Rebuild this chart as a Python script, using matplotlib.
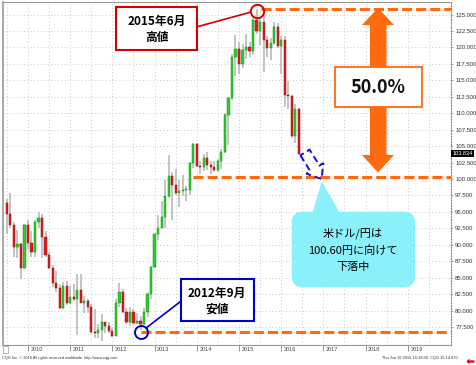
import numpy as np
import pandas as pd
import matplotlib
matplotlib.use('Agg')
import matplotlib.pyplot as plt
from matplotlib.patches import Rectangle, Polygon, FancyBboxPatch
from matplotlib.transforms import Affine2D, blended_transform_factory

# ---------------- data (USD/JPY monthly, Jul 2009 - Jun 2016) ----------------
months = pd.period_range('2009-07', '2016-06', freq='M')
opens = [96.3, 94.7, 93.0, 89.7, 90.1, 86.4,
         93.0, 90.3, 88.9, 93.5, 94.0, 91.2, 88.4, 86.5, 84.2, 83.5, 80.4, 83.7,
         81.1, 82.1, 81.8, 83.1, 81.2, 81.5, 80.5, 76.8, 76.6, 77.0, 78.2, 77.6,
         76.9, 76.2, 81.2, 82.9, 79.8, 78.3, 79.8, 78.1, 78.4, 77.9, 79.8, 82.5,
         86.7, 91.7, 92.6, 94.2, 97.4, 100.5, 99.1, 97.9, 98.2, 98.3, 98.4, 102.4,
         105.3, 102.0, 101.8, 103.2, 102.2, 101.8, 101.3, 102.8, 104.1, 109.7, 112.3, 118.6,
         119.8, 117.5, 119.6, 120.1, 119.4, 124.1, 122.5, 123.9, 121.2, 119.9, 120.6, 123.1,
         120.2, 121.1, 112.7, 112.6, 106.5, 110.7]
highs = [96.9, 97.8, 93.4, 92.3, 90.2, 93.1,
         93.7, 92.1, 93.7, 95.0, 94.7, 92.1, 88.9, 87.0, 86.0, 84.0, 84.4, 84.5,
         83.7, 84.0, 85.5, 85.5, 82.2, 81.7, 81.0, 80.2, 77.9, 79.5, 78.3, 78.3,
         77.3, 81.7, 84.2, 83.3, 80.4, 80.6, 80.2, 79.7, 79.2, 80.4, 82.8, 86.8,
         91.8, 94.5, 96.7, 99.9, 103.7, 101.0, 101.5, 99.9, 100.6, 99.0, 102.6, 105.4,
         105.4, 102.8, 103.8, 104.1, 102.7, 102.8, 103.1, 104.5, 110.1, 112.5, 119.0, 121.9,
         120.8, 120.5, 122.0, 120.8, 124.5, 125.9, 124.6, 125.3, 121.7, 121.5, 123.8, 123.7,
         121.7, 121.7, 114.9, 112.7, 111.4, 110.8]
lows = [91.7, 92.6, 88.2, 88.0, 84.8, 86.3,
        89.4, 88.1, 88.1, 92.6, 88.0, 88.1, 86.3, 83.6, 82.9, 80.2, 80.2, 80.8,
        81.0, 81.5, 76.3, 81.1, 79.6, 79.7, 76.6, 75.9, 75.9, 75.4, 76.6, 76.6,
        76.0, 76.1, 80.6, 79.7, 78.0, 77.6, 77.9, 77.9, 77.1, 77.8, 79.0, 81.7,
        86.5, 90.8, 92.5, 92.6, 97.1, 93.8, 97.6, 95.8, 97.4, 96.6, 97.6, 101.6,
        101.8, 100.8, 101.2, 101.4, 100.8, 101.1, 101.0, 101.5, 104.0, 105.2, 112.0, 115.6,
        115.9, 116.9, 118.3, 118.5, 118.9, 122.0, 120.4, 116.2, 118.6, 118.1, 120.3, 119.9,
        116.0, 111.0, 110.7, 106.3, 105.5, 103.6]
closes = [94.7, 93.0, 89.7, 90.1, 86.4, 93.0,
          90.3, 88.9, 93.5, 94.0, 91.2, 88.4, 86.5, 84.2, 83.5, 80.4, 83.7, 81.1,
          82.1, 81.8, 83.1, 81.2, 81.5, 80.5, 76.8, 76.6, 77.0, 78.2, 77.6, 76.9,
          76.2, 81.2, 82.9, 79.8, 78.3, 79.8, 78.1, 78.4, 77.9, 79.8, 82.5, 86.7,
          91.7, 92.6, 94.2, 97.4, 100.5, 99.1, 97.9, 98.2, 98.3, 98.4, 102.4, 105.3,
          102.0, 101.8, 103.2, 102.2, 101.8, 101.3, 102.8, 104.1, 109.7, 112.3, 118.6, 119.8,
          117.5, 119.6, 120.1, 119.4, 124.1, 122.5, 123.9, 121.2, 119.9, 120.6, 123.1, 120.2,
          121.1, 112.7, 112.6, 106.5, 110.7, 103.8]
last_price = 103.834
high_level = 125.9      # 2015-06 high
low_level = 76.7        # 2012-09 low line
target_level = 100.3    # 50% level line
high_month = pd.Period('2015-06', freq='M')
low_month = pd.Period('2012-09', freq='M')
target_start = pd.Period('2013-12', freq='M')
year_ticks = list(range(2010, 2020))
y_ticks = np.arange(77.5, 125.01, 2.5)
footer_left = "CQG Inc. \u00a9 2016 All rights reserved worldwide. http://www.cqg.com"
footer_right = "Thu Jun 16 2016 16:18:00, CQG 16.14.870"

# ---------------- figure ----------------
W, H = 476, 365
plt.rcParams['font.family'] = ['Noto Sans CJK JP', 'DejaVu Sans']
fig = plt.figure(figsize=(W / 100, H / 100), dpi=100)
fig.patch.set_facecolor('white')
ax = fig.add_axes([3 / W, 1 - 345 / H, 448 / W, 343 / H])
PX = Affine2D().scale(1 / W, -1 / H).translate(0, 1) + fig.transFigure

def mx(p):
    return p.year + (p.month - 1) / 12.0

x = np.array([mx(p) for p in months])
o, h, l, c = map(np.array, (opens, highs, lows, closes))

ORANGE = '#FF6A10'
GREEN, GREEN_E = '#2ECC2E', '#179017'
RED, RED_E = '#D82020', '#901010'

# wicks
ax.vlines(x, l, h, color='#b4b4b4', lw=1.1, zorder=3)
# bodies
up = c >= o
bw = 0.052
bottoms = np.minimum(o, c)
heights = np.maximum(np.abs(c - o), 0.18)
ax.bar(x[up], heights[up], bw, bottoms[up], color=GREEN, edgecolor=GREEN_E, lw=0.35, zorder=4)
ax.bar(x[~up], heights[~up], bw, bottoms[~up], color=RED, edgecolor=RED_E, lw=0.35, zorder=4)

# axes limits
ax.set_xlim(2009.408, 2020.024)
ax.set_ylim(74.77, 126.9)

# grid
ax.set_xticks(year_ticks)
ax.set_xticks(np.arange(2009.5, 2020.0, 1.0), minor=True)
ax.set_yticks(y_ticks)
ax.grid(True, which='both', axis='x', color='#c8c8c8', lw=0.7, ls=(0, (1, 2.5)))
ax.grid(True, which='major', axis='y', color='#c8c8c8', lw=0.7, ls=(0, (1, 2.5)))
ax.set_axisbelow(True)

# x ticks
ax.tick_params(axis='x', which='major', direction='out', length=4.5, width=0.6,
               color='#888888', labelbottom=False)
ax.tick_params(axis='x', which='minor', length=0)
xt = blended_transform_factory(ax.transData, ax.transAxes)
for yr in year_ticks:
    ax.text(yr + 0.06, -0.0125, str(yr), transform=xt, ha='left', va='center',
            fontsize=4.0, color='#444444', family='Liberation Sans')

# y ticks on right
ax.yaxis.tick_right()
ax.set_yticklabels([f"{v:.3f}" for v in y_ticks], fontsize=4.3, color='#333333',
                   family='Liberation Sans')
ax.tick_params(axis='y', direction='out', length=1.5, width=0.5, color='#888888', pad=1.5)

for s in ('left', 'top', 'bottom'):
    ax.spines[s].set_color('#999999')
ax.spines['left'].set_linewidth(1.2)
ax.spines['top'].set_linewidth(0.8)
ax.spines['bottom'].set_linewidth(0.8)
ax.spines['right'].set_color('#888888')
ax.spines['right'].set_linestyle((0, (1, 1.5)))
ax.spines['right'].set_linewidth(0.8)

# last price label
yt = blended_transform_factory(ax.transAxes, ax.transData)
ax.text(1.003, last_price, f"{last_price:.3f}", transform=yt, ha='left', va='center',
        fontsize=4.0, color='white', family='Liberation Sans', zorder=10, clip_on=False,
        bbox=dict(boxstyle='square,pad=0.18', fc='black', ec='none'))

# ---------------- level lines ----------------
dash = (0, (3.3, 1.3))
x_right = ax.get_xlim()[1]
ax.hlines(high_level, mx(high_month) + 0.11, x_right, color=ORANGE, lw=2.2, ls=dash, zorder=6)
ax.hlines(target_level, mx(target_start), x_right, color=ORANGE, lw=2.2, ls=dash, zorder=6)
ax.hlines(low_level, mx(low_month), x_right, color=ORANGE, lw=2.2, ls=dash, zorder=6)

# circles
ax.plot([mx(high_month)], [high_level - 0.3], marker='o', ms=9.6, mfc='none',
        mec='#D40000', mew=1.4, zorder=7, clip_on=False)
ax.plot([mx(low_month)], [low_level], marker='o', ms=9.4, mfc='none',
        mec='#0000CC', mew=1.4, zorder=7)

# ---------------- annotation boxes ----------------
# 2015 high box
fig.patches.append(Rectangle((115.7, 7.3), 81.6, 42.7, transform=PX, fc='white',
                             ec='#D40000', lw=1.5, zorder=20))
ax.annotate('', xy=(mx(high_month), high_level - 0.3), xycoords='data',
            xytext=(197.3, 26.7), textcoords=PX,
            arrowprops=dict(arrowstyle='-', color='#D40000', lw=1.2, shrinkA=0, shrinkB=4.8),
            zorder=8, annotation_clip=False)
fig.text(156.5 / W, 1 - 21.7 / H, '2015年6月', ha='center', va='center',
         fontsize=8.5, fontweight='bold', color='black', zorder=21)
fig.text(156.5 / W, 1 - 37.0 / H, '高値', ha='center', va='center',
         fontsize=8.5, fontweight='bold', color='black', zorder=21)

# 2012 low box
fig.patches.append(Rectangle((180.5, 279.3), 73.0, 41.5, transform=PX, fc='white',
                             ec='#0000CC', lw=1.5, zorder=20))
ax.annotate('', xy=(mx(low_month), low_level), xycoords='data',
            xytext=(180.5, 301.5), textcoords=PX,
            arrowprops=dict(arrowstyle='-', color='#0000CC', lw=1.2, shrinkA=0, shrinkB=4.8),
            zorder=8, annotation_clip=False)
fig.text(217 / W, 1 - 293.5 / H, '2012年9月', ha='center', va='center',
         fontsize=8.5, fontweight='bold', color='black', zorder=21)
fig.text(217 / W, 1 - 309.0 / H, '安値', ha='center', va='center',
         fontsize=8.5, fontweight='bold', color='black', zorder=21)

# double-headed orange arrow
arrow_pts = [(378, 8), (394, 25), (386.5, 25), (386.5, 155), (394, 155), (378, 172.5),
             (362, 155), (370, 155), (370, 25), (362, 25)]
fig.patches.append(Polygon(arrow_pts, closed=True, transform=PX, fc=ORANGE, ec='none', zorder=18))
fig.patches.append(Rectangle((334.7, 67.3), 87.0, 40.0, transform=PX, fc='white',
                             ec=ORANGE, lw=1.3, zorder=20))
fig.text(378 / W, 1 - 87.5 / H, '50.0%', ha='center', va='center',
         fontsize=13, fontweight='bold', color='#111111', zorder=21)

# blue dashed hollow arrow
T = np.array([305.0, 152.5])
P = np.array([321.5, 179.0])
d = (P - T) / np.linalg.norm(P - T)
n = np.array([-d[1], d[0]])
B = P - d * 12.5
hollow = [T + n * 5.4, B + n * 5.4, B + n * 10.0, P, B - n * 10.0, B - n * 5.4, T - n * 5.4]
fig.patches.append(Polygon(hollow, closed=True, transform=PX, fill=False, ec='#1010E0',
                           lw=1.4, ls=(0, (3.5, 2.0)), zorder=19))

# cyan callout
CYAN = '#8AF0FA'
fig.patches.append(FancyBboxPatch((291.7, 211.7), 123.3, 75.6,
                                  boxstyle='round,pad=0,rounding_size=11',
                                  transform=PX, fc=CYAN, ec='none', zorder=18))
fig.patches.append(Polygon([(312.5, 213), (340, 213), (321.7, 181.5)], closed=True,
                           transform=PX, fc=CYAN, ec='none', zorder=18))
for txt, yy in (('米ドル/円は', 233.5), ('100.60円に向けて', 250.5), ('下落中', 267.0)):
    fig.text(353 / W, 1 - yy / H, txt, ha='center', va='center', fontsize=8,
             color='black', zorder=21)

# ---------------- chrome ----------------
fig.patches.append(Rectangle((3, 345.5), 5, 7, transform=PX, fc='white', ec='#999999',
                             lw=0.5, zorder=5))
red_arrow = [(466.5, 361.5), (469.5, 358.5), (469.5, 360.4), (474.5, 360.4),
             (474.5, 362.6), (469.5, 362.6), (469.5, 364.5)]
fig.patches.append(Polygon(red_arrow, closed=True, transform=PX, fc='#E00000', ec='none'))
fig.text(2 / W, 1 - 358.5 / H, footer_left, ha='left', va='center', fontsize=2.8,
         color='#333333', family='Liberation Sans')
fig.text(458 / W, 1 - 358.5 / H, footer_right, ha='right', va='center', fontsize=2.8,
         color='#333333', family='Liberation Sans')

fig.savefig('out.png', dpi=100, facecolor='white')
